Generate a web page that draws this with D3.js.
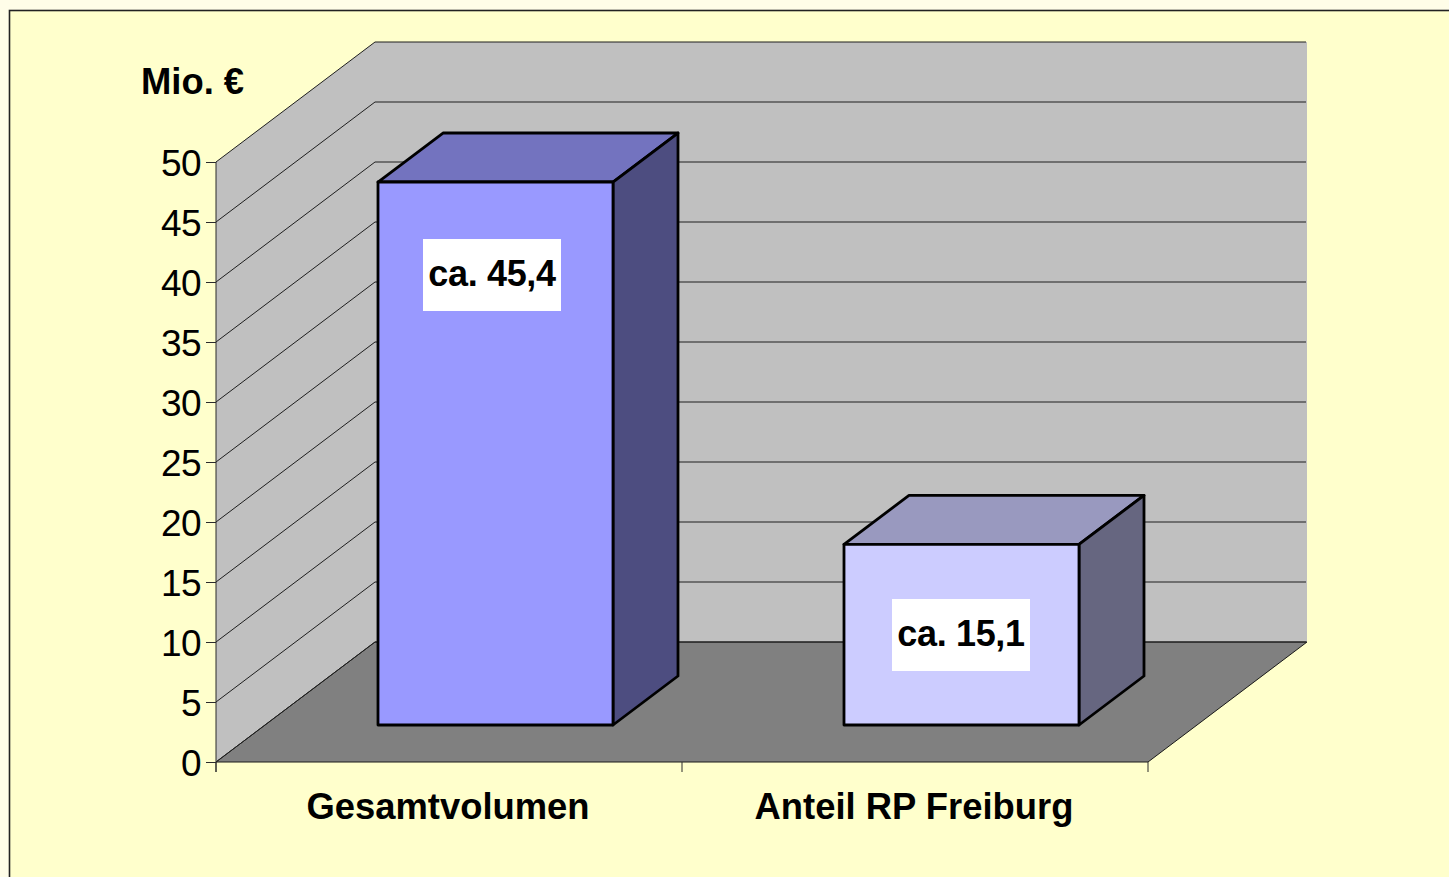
<!DOCTYPE html>
<html>
<head>
<meta charset="utf-8">
<script src="https://cdn.jsdelivr.net/npm/d3@7"></script>
<style>
  html, body { margin: 0; padding: 0; background: #fffde8; overflow: hidden; }
  text { font-family: "Liberation Sans", Arial, sans-serif; fill: #000; }
</style>
</head>
<body>
<script>
const categories = ["Gesamtvolumen", "Anteil RP Freiburg"];
const values = [45.4, 15.1];
const valueLabels = ["ca. 45,4", "ca. 15,1"];
const yTicks = [0, 5, 10, 15, 20, 25, 30, 35, 40, 45, 50];
const frontColors = ["#9999ff", "#ccccff"];
const topColors = ["#7373bf", "#9999bf"];
const sideColors = ["#4d4d80", "#666680"];

const width = 1449, height = 877;
const depth = { x: 159, y: -120 };        // floor depth of the 3d box
const barDepth = { x: 65, y: -49 };
const barBase = { x: 49, y: -37 };        // bar foot sits this far back on the floor
const barInset = 113, barWidth = 235;

const x = d3.scaleBand().domain(categories).range([216, 1148]);
const y = d3.scaleLinear().domain([0, 50]).range([762, 162]);
const barHeight = d3.scaleLinear().domain([0, 50]).range([0, 598]);

const svg = d3.select("body").append("svg")
  .attr("width", width)
  .attr("height", height)
  .style("display", "block");

// outer frame, right and bottom run off the picture
svg.append("rect")
  .attr("x", 9.5).attr("y", 10.5)
  .attr("width", width + 20).attr("height", height + 20)
  .attr("fill", "#ffffcc")
  .attr("stroke", "#222")
  .attr("stroke-width", 1.6);

const poly = pts => "M" + pts.map(p => p.join(",")).join("L") + "Z";
const x0 = x.range()[0], x1 = x.range()[1];

// side wall
svg.append("path")
  .attr("d", poly([[x0, y(0)], [x0, y(50)], [x0 + depth.x, y(50) + depth.y], [x0 + depth.x, y(0) + depth.y]]))
  .attr("fill", "#c0c0c0");

// back wall
svg.append("path")
  .attr("d", poly([[x0 + depth.x, y(0) + depth.y], [x0 + depth.x, y(50) + depth.y], [x1 + depth.x, y(50) + depth.y], [x1 + depth.x, y(0) + depth.y]]))
  .attr("fill", "#c0c0c0");

// floor
svg.append("path")
  .attr("d", poly([[x0, y(0)], [x1, y(0)], [x1 + depth.x, y(0) + depth.y], [x0 + depth.x, y(0) + depth.y]]))
  .attr("fill", "#808080")
  .attr("stroke", "#1a1a1a")
  .attr("stroke-width", 1);

// gridlines over side and back wall
svg.append("g").selectAll("path")
  .data(yTicks)
  .join("path")
  .attr("d", d => `M${x0},${y(d)}L${x0 + depth.x},${y(d) + depth.y}L${x1 + depth.x - 1},${y(d) + depth.y}`)
  .attr("fill", "none")
  .attr("stroke", "#1f1f1f")
  .attr("stroke-width", 1);

// axes
const yAxis = d3.axisLeft(y).tickValues(yTicks).tickSize(10).tickPadding(5);
const yG = svg.append("g").attr("transform", `translate(${x0},0)`).call(yAxis);
yG.select(".domain").attr("stroke", "#2b2b2b").attr("d", `M0,${y(50)}V${y(0) + 10}`);
yG.selectAll(".tick line").attr("stroke", "#2b2b2b");
yG.selectAll("text")
  .attr("font-size", 37)
  .attr("y", 2)
  .attr("letter-spacing", -0.6)
  .attr("font-family", '"Liberation Sans", Arial, sans-serif');

const xG = svg.append("g");
xG.selectAll("line")
  .data([x0, x(categories[1]), x1])
  .join("line")
  .attr("x1", d => d).attr("x2", d => d)
  .attr("y1", y(0)).attr("y2", y(0) + 10)
  .attr("stroke", "#2b2b2b");

xG.selectAll("text")
  .data(categories)
  .join("text")
  .attr("x", d => x(d) + x.bandwidth() / 2 - 1)
  .attr("y", 819)
  .attr("text-anchor", "middle")
  .attr("font-size", 36.4)
  .attr("font-weight", "bold")
  .text(d => d);

// bars
const bars = svg.append("g").selectAll("g")
  .data(values)
  .join("g")
  .attr("stroke", "#000")
  .attr("stroke-width", 2.8)
  .attr("stroke-linejoin", "round");

const left = (d, i) => x(categories[i]) + barInset + barBase.x;
const foot = y(0) + barBase.y;
const top_ = d => foot - barHeight(d);

bars.append("path")
  .attr("d", (d, i) => {
    const l = left(d, i), r = l + barWidth, t = top_(d);
    return poly([[l, t], [r, t], [r + barDepth.x, t + barDepth.y], [l + barDepth.x, t + barDepth.y]]);
  })
  .attr("fill", (d, i) => topColors[i]);

bars.append("path")
  .attr("d", (d, i) => {
    const r = left(d, i) + barWidth, t = top_(d);
    return poly([[r, t], [r, foot], [r + barDepth.x, foot + barDepth.y], [r + barDepth.x, t + barDepth.y]]);
  })
  .attr("fill", (d, i) => sideColors[i]);

bars.append("path")
  .attr("d", (d, i) => {
    const l = left(d, i), r = l + barWidth, t = top_(d);
    return poly([[l, t], [r, t], [r, foot], [l, foot]]);
  })
  .attr("fill", (d, i) => frontColors[i]);

// value labels on white boxes
const labelY = [275, 635];
const labelX = [492, 961];
const labels = svg.append("g").selectAll("g")
  .data(valueLabels)
  .join("g")
  .attr("transform", (d, i) => `translate(${labelX[i]},${labelY[i]})`);

labels.append("rect")
  .attr("x", -69).attr("y", -36)
  .attr("width", 138).attr("height", 72)
  .attr("fill", "#fff");

labels.append("text")
  .attr("text-anchor", "middle")
  .attr("y", 11)
  .attr("font-size", 36)
  .attr("letter-spacing", -0.35)
  .attr("font-weight", "bold")
  .text(d => d);

// unit title
svg.append("text")
  .attr("x", 141).attr("y", 94)
  .attr("font-size", 36.4)
  .attr("font-weight", "bold")
  .text("Mio. €");
</script>
</body>
</html>
